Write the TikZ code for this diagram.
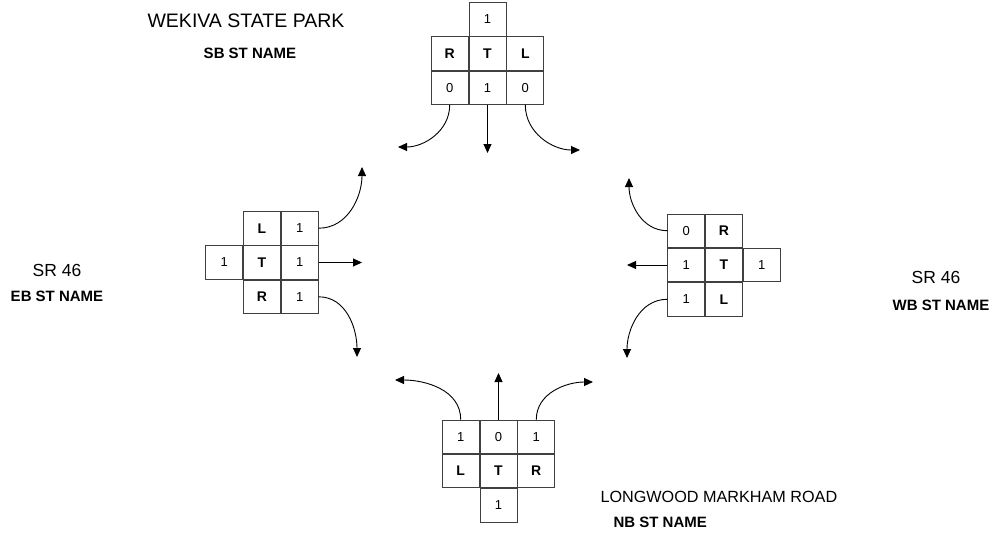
\documentclass[tikz,border=0pt]{standalone}
\usepackage{fontspec}
\setmainfont{Liberation Sans}
\usetikzlibrary{positioning,arrows.meta}

\begin{document}
\begin{tikzpicture}[x=1pt, y=-1pt,
    cell/.style={rectangle, draw=black!75, line width=0.8pt, minimum width=37pt, minimum height=33.5pt, inner sep=0pt, font=\fontsize{13}{13}\selectfont},
    move/.style={cell, font=\fontsize{14}{14}\selectfont\bfseries},
    flow/.style={line width=0.9pt, -{Triangle[length=9pt, width=8pt]}},
    road/.style={font=\fontsize{17.5}{17.5}\selectfont},
    dir/.style={font=\fontsize{15}{15}\selectfont\bfseries}]
    \useasboundingbox (0,0) rectangle (994,533);

    % Southbound approach (top)
    \node [move] (sbT) at (487.5,53.5) {T};
    \node [move, left=0pt of sbT] (sbR) {R};
    \node [move, right=0pt of sbT] (sbL) {L};
    \node [cell, above=0pt of sbT] (sbTot) {1};
    \node [cell, below=0pt of sbR] (sbRv) {0};
    \node [cell, below=0pt of sbT] (sbTv) {1};
    \node [cell, below=0pt of sbL] (sbLv) {0};
    \coordinate (sbRend) at (398,147);
    \coordinate (sbTend) at (487.5,153);
    \coordinate (sbLend) at (580,150);
    \draw [flow] (sbRv.south) to[out=-90, in=0] (sbRend);
    \draw [flow] (sbTv) -- (sbTend);
    \draw [flow] (sbLv.south) to[out=-90, in=180] (sbLend);

    % Eastbound approach (left)
    \node [move] (ebT) at (262,262.5) {T};
    \node [move, above=0pt of ebT] (ebL) {L};
    \node [move, below=0pt of ebT] (ebR) {R};
    \node [cell, left=0pt of ebT] (ebTot) {1};
    \node [cell, right=0pt of ebL] (ebLv) {1};
    \node [cell, right=0pt of ebT] (ebTv) {1};
    \node [cell, right=0pt of ebR] (ebRv) {1};
    \coordinate (ebLend) at (362,167);
    \coordinate (ebTend) at (362,262.5);
    \coordinate (ebRend) at (357,357);
    \draw [flow] (ebLv.east) to[out=0, in=-90] (ebLend);
    \draw [flow] (ebTv) -- (ebTend);
    \draw [flow] (ebRv.east) to[out=0, in=90] (ebRend);

    % Westbound approach (right)
    \node [move] (wbT) at (724,265) {T};
    \node [move, above=0pt of wbT] (wbR) {R};
    \node [move, below=0pt of wbT] (wbL) {L};
    \node [cell, right=0pt of wbT] (wbTot) {1};
    \node [cell, left=0pt of wbR] (wbRv) {0};
    \node [cell, left=0pt of wbT] (wbTv) {1};
    \node [cell, left=0pt of wbL] (wbLv) {1};
    \coordinate (wbRend) at (629,178);
    \coordinate (wbTend) at (627,265);
    \coordinate (wbLend) at (627,358);
    \draw [flow] (wbRv.west) to[out=180, in=-90] (wbRend);
    \draw [flow] (wbTv) -- (wbTend);
    \draw [flow] (wbLv.west) to[out=180, in=90] (wbLend);

    % Northbound approach (bottom)
    \node [move] (nbT) at (498.5,471) {T};
    \node [move, left=0pt of nbT] (nbL) {L};
    \node [move, right=0pt of nbT] (nbR) {R};
    \node [cell, below=0pt of nbT] (nbTot) {1};
    \node [cell, above=0pt of nbL] (nbLv) {1};
    \node [cell, above=0pt of nbT] (nbTv) {0};
    \node [cell, above=0pt of nbR] (nbRv) {1};
    \coordinate (nbLend) at (395,380);
    \coordinate (nbTend) at (498.5,373);
    \coordinate (nbRend) at (593,382);
    \draw [flow] (nbLv.north) to[out=90, in=0] (nbLend);
    \draw [flow] (nbTv) -- (nbTend);
    \draw [flow] (nbRv.north) to[out=90, in=180] (nbRend);

    % Street names
    \node [road, font=\fontsize{19.5}{19.5}\selectfont] (sbName) at (246,21) {WEKIVA STATE PARK};
    \node [dir] (sbDir) at (250,53) {SB ST NAME};
    \node [road] (ebName) at (57,270) {SR 46};
    \node [dir] (ebDir) at (57,296) {EB ST NAME};
    \node [road] (wbName) at (936,277) {SR 46};
    \node [dir] (wbDir) at (941,305) {WB ST NAME};
    \node [road, anchor=west, font=\fontsize{16.2}{16.2}\selectfont] (nbName) at (597,497) {LONGWOOD MARKHAM ROAD};
    \node [dir, anchor=west] (nbDir) at (610,522) {NB ST NAME};
\end{tikzpicture}
\end{document}
